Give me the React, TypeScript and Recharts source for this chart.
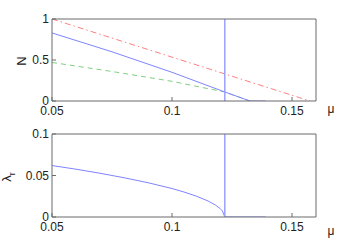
import { LineChart, Line, XAxis, YAxis } from "recharts";

// panel 1: N against mu
const muTicks = [0.05, 0.1, 0.15];
const nTicks = [0, 0.5, 1];
const blueMu = [0.05, 0.075, 0.1, 0.122, 0.1325, 0.139];
const blueN = [0.83, 0.6, 0.35, 0.11, 0, 0];
const greenMu = [0.05, 0.075, 0.1, 0.11, 0.122, 0.1325];
const greenN = [0.47, 0.36, 0.24, 0.18, 0.11, 0];
const redMu = [0.05, 0.1575];
const redN = [1.0, 0];
const critMu = 0.122;

// panel 2: lambda_r against mu
const lamTicks = [0, 0.05, 0.1];
const lamMu = [0.05, 0.06, 0.07, 0.08, 0.09, 0.1, 0.105, 0.11, 0.115, 0.118, 0.12, 0.121, 0.122, 0.139];
const lamR = [0.062, 0.0576, 0.0527, 0.0473, 0.0413, 0.0343, 0.0301, 0.0253, 0.0193, 0.0146, 0.0103, 0.0073, 0, 0];

const zip = (xs: number[], ys: number[]) => xs.map((mu, i) => ({ mu, v: ys[i] }));

const BLUE = "#7f84ff";
const VBLUE = "#9aa0ff";
const RED = "#ff8080";
const GREEN = "#7fcf7f";
const AXIS = "#6b6b6b";
const FONT = "'Liberation Sans', Arial, sans-serif";
const tickStyle = { fontSize: 12, fill: "#222", fontFamily: FONT };

const Frame = ({ yDomain, yTicks }: { yDomain: number[]; yTicks: number[] }) => [
  <XAxis
    key="xb"
    type="number"
    dataKey="mu"
    domain={[0.05, 0.16]}
    ticks={muTicks}
    allowDataOverflow
    height={20}
    tickSize={-4}
    tickMargin={9}
    stroke={AXIS}
    tick={tickStyle}
    interval={0}
  />,
  <XAxis
    key="xt"
    xAxisId="top"
    orientation="top"
    type="number"
    dataKey="mu"
    domain={[0.05, 0.16]}
    ticks={muTicks}
    allowDataOverflow
    height={1}
    tickSize={-4}
    stroke={AXIS}
    tick={false}
  />,
  <YAxis
    key="yl"
    type="number"
    domain={yDomain}
    ticks={yTicks}
    allowDataOverflow
    width={40}
    tickSize={-4}
    tickMargin={7}
    stroke={AXIS}
    tick={tickStyle}
    interval={0}
  />,
  <YAxis
    key="yr"
    yAxisId="right"
    orientation="right"
    type="number"
    domain={yDomain}
    ticks={yTicks}
    allowDataOverflow
    width={5}
    tickSize={-4}
    stroke={AXIS}
    tick={false}
  />,
];

export default function App() {
  return (
    <div style={{ position: "absolute", left: 0, top: 0, width: 349, height: 245, background: "#fff", fontFamily: FONT }}>
      <div style={{ position: "absolute", left: 0, top: 0 }}>
        <LineChart width={349} height={125} margin={{ top: 18, right: 28, bottom: 4, left: 12 }}>
          {Frame({ yDomain: [0, 1], yTicks: nTicks })}
          <Line data={zip(redMu, redN)} dataKey="v" stroke={RED} strokeWidth={1} strokeDasharray="6 3 1.5 3" dot={false} isAnimationActive={false} />
          <Line data={zip(greenMu, greenN)} dataKey="v" stroke={GREEN} strokeWidth={1} strokeDasharray="5 4" dot={false} isAnimationActive={false} />
          <Line data={zip(blueMu, blueN)} dataKey="v" stroke={BLUE} strokeWidth={1} dot={false} isAnimationActive={false} />
          <Line data={zip([critMu, critMu], [0, 1])} dataKey="v" stroke={VBLUE} strokeWidth={1.5} dot={false} isAnimationActive={false} />
        </LineChart>
      </div>
      <div style={{ position: "absolute", left: 0, top: 120 }}>
        <LineChart width={349} height={125} margin={{ top: 13, right: 28, bottom: 8, left: 12 }}>
          {Frame({ yDomain: [0, 0.1], yTicks: lamTicks })}
          <Line data={zip(lamMu, lamR)} dataKey="v" stroke={BLUE} strokeWidth={1} dot={false} isAnimationActive={false} />
          <Line data={zip([critMu, critMu], [0, 0.1])} dataKey="v" stroke={VBLUE} strokeWidth={1.5} dot={false} isAnimationActive={false} />
        </LineChart>
      </div>
      <div style={{ position: "absolute", left: 21, top: 61, transform: "translate(-50%,-50%) rotate(-90deg)", fontSize: 13, color: "#222" }}>N</div>
      <div style={{ position: "absolute", left: 331, top: 109, transform: "translate(-50%,-50%)", fontSize: 12, color: "#222" }}>μ</div>
      <div style={{ position: "absolute", left: 8, top: 177, transform: "translate(-50%,-50%) rotate(-90deg)", fontSize: 13, color: "#222", whiteSpace: "nowrap" }}>
        λ<sub style={{ fontSize: 9 }}>r</sub>
      </div>
      <div style={{ position: "absolute", left: 331, top: 231, transform: "translate(-50%,-50%)", fontSize: 12, color: "#222" }}>μ</div>
    </div>
  );
}
